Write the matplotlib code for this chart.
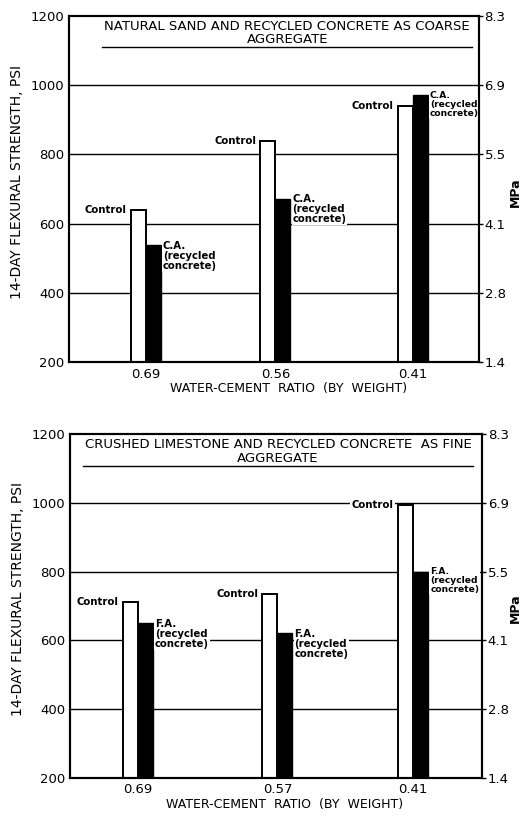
import matplotlib
matplotlib.use("Agg")
import matplotlib.pyplot as plt

# top panel: natural sand + recycled concrete as coarse aggregate
ratios_top = ["0.69", "0.56", "0.41"]
control_top = [638, 838, 940]
recycled_top = [537, 672, 970]

# bottom panel: crushed limestone + recycled concrete as fine aggregate
ratios_bot = ["0.69", "0.57", "0.41"]
control_bot = [712, 734, 994]
recycled_bot = [650, 622, 800]

psi_ticks = [200, 400, 600, 800, 1000, 1200]
mpa_labels = ["1.4", "2.8", "4.1", "5.5", "6.9", "8.3"]

titles = ["NATURAL SAND AND RECYCLED CONCRETE AS COARSE\nAGGREGATE",
          "CRUSHED LIMESTONE AND RECYCLED CONCRETE  AS FINE\nAGGREGATE"]

plt.rcParams['font.family'] = ['DejaVu Sans']

fig = plt.figure(figsize=(5.23, 8.16), dpi=100)
ax_top = fig.add_axes([0.132, 0.556, 0.784, 0.425])
ax_bot = fig.add_axes([0.134, 0.047, 0.788, 0.421])

pos_top = [-0.02, 0.96, 2.0]
pos_bot = [-0.09, 0.96, 1.98]
w = 0.113
lab_size = [7.3, 7.3, 6.6]


def panel(ax, pos, ratios, ctrl, rec, title, tag, line_x, xlab_x):
    for g in psi_ticks[1:-1]:
        ax.axhline(g, color='black', lw=1.0, zorder=0)
    ax.bar([p - w / 2 for p in pos], ctrl, width=w,
           color='white', edgecolor='black', lw=1.4, zorder=2)
    ax.bar([p + w / 2 for p in pos], rec, width=w,
           color='black', edgecolor='black', lw=1.0, zorder=2)
    ax.set_xlim(-0.6, 2.5)
    ax.set_ylim(200, 1200)
    ax.set_yticks(psi_ticks)
    ax.set_xticks(pos)
    ax.set_xticklabels(ratios)
    ax.tick_params(axis='both', length=0, labelsize=9.5)
    ax.tick_params(axis='x', pad=4)
    for s in ax.spines.values():
        s.set_linewidth(1.5)
    ax.set_xlabel("WATER-CEMENT  RATIO  (BY  WEIGHT)", fontsize=9, labelpad=2)
    ax.xaxis.set_label_coords(xlab_x, -0.058)
    ax.set_ylabel("14-DAY FLEXURAL STRENGTH, PSI", fontsize=10)
    ax.yaxis.set_label_coords(-0.11, 0.52)

    for p, c, r, fs in zip(pos, ctrl, rec, lab_size):
        ax.annotate("Control", (p - w, c), xytext=(-3, 0), textcoords='offset points',
                    ha='right', va='center', fontsize=7.3, fontweight='bold',
                    bbox=dict(fc='white', ec='none', pad=1), zorder=3)
        ax.annotate(tag + "\n(recycled\nconcrete)", (p + w, r), xytext=(1.5, 3),
                    textcoords='offset points', ha='left', va='top', fontsize=fs,
                    fontweight='bold', linespacing=1.0,
                    bbox=dict(fc='white', ec='none', pad=0.5), zorder=3)

    ax.text(0.5 * (line_x[0] + line_x[1]), 1150, title, ha='center', va='center',
            fontsize=9.5, linespacing=1.05)
    ax.plot(line_x, [1108, 1108], color='black', lw=1.0)

    ax2 = ax.twinx()
    ax2.set_ylim(200, 1200)
    ax2.set_yticks(psi_ticks)
    ax2.set_yticklabels(mpa_labels)
    ax2.tick_params(axis='y', length=3, width=1, labelsize=9.5, pad=1)
    for s in ax2.spines.values():
        s.set_linewidth(1.5)


panel(ax_top, pos_top, ratios_top, control_top, recycled_top, titles[0], "C.A.",
      [-0.35, 2.45], 0.535)
panel(ax_bot, pos_bot, ratios_bot, control_bot, recycled_bot, titles[1], "F.A.",
      [-0.5, 2.43], 0.52)

fig.text(515 / 523, 1 - 192 / 816, "MPa", rotation=90, ha='center', va='center',
         fontsize=9, fontweight='bold')
fig.text(515 / 523, 1 - 608 / 816, "MPa", rotation=90, ha='center', va='center',
         fontsize=9, fontweight='bold')

fig.savefig("out.png", dpi=100)
